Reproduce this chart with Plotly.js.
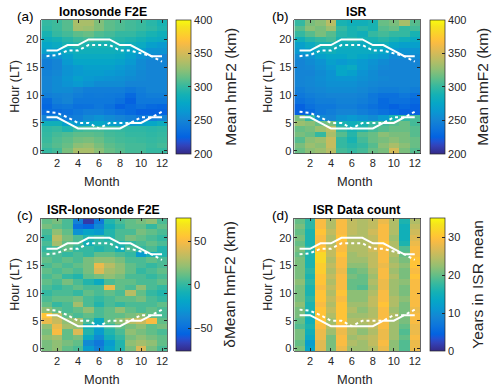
<!DOCTYPE html>
<html><head><meta charset="utf-8">
<script src="https://cdn.plot.ly/plotly-3.0.1.min.js"></script>
<style>html,body{margin:0;padding:0;background:#fff}#chart{width:500px;height:391px}</style>
</head><body><div id="chart"></div>
<script>
// ---------- data ----------
const months = [1,2,3,4,5,6,7,8,9,10,11,12];
const hours = [0,1,2,3,4,5,6,7,8,9,10,11,12,13,14,15,16,17,18,19,20,21,22,23];

// rows = hour 0..23, columns = month 1..12
const ionoF2E = [
 [300,305,320,335,335,325,315,310,305,305,300,300],
 [305,310,315,325,328,320,312,308,305,305,302,305],
 [302,308,312,318,320,315,308,305,303,302,300,302],
 [300,305,308,312,312,310,305,303,300,300,298,300],
 [298,300,292,302,305,305,302,300,298,298,296,298],
 [285,285,270,265,272,276,270,266,265,270,276,282],
 [250,255,242,245,255,260,255,250,245,240,245,250],
 [232,232,235,240,245,245,240,235,230,225,225,225],
 [228,238,240,235,236,240,235,225,230,235,230,228],
 [232,245,250,240,240,240,240,235,225,240,240,240],
 [245,248,250,245,242,243,242,240,230,242,245,245],
 [250,255,255,250,245,245,245,245,240,245,250,250],
 [250,255,260,265,260,255,255,255,250,250,250,250],
 [250,255,262,270,265,262,260,258,255,252,250,250],
 [248,252,260,265,268,268,265,262,258,253,250,250],
 [245,250,260,265,270,270,270,265,260,255,250,250],
 [245,250,265,275,275,275,275,272,265,255,250,250],
 [255,260,270,280,280,280,280,278,270,260,255,250],
 [270,270,280,285,285,285,285,283,275,270,260,260],
 [275,280,290,295,292,290,290,290,285,280,270,265],
 [283,288,295,302,305,300,298,295,292,288,282,280],
 [290,300,305,312,315,308,305,300,300,295,290,285],
 [298,303,310,333,330,322,312,308,305,302,298,292],
 [300,303,310,335,335,322,312,308,305,302,296,290]
];

const isrMean = [
 [315,325,330,340,305,300,305,315,320,350,320,310],
 [320,330,325,345,300,295,300,310,325,335,325,315],
 [310,325,330,345,300,290,305,315,320,325,320,315],
 [320,315,300,335,310,295,310,315,325,320,320,310],
 [315,320,330,340,300,290,295,305,310,315,315,310],
 [330,325,315,320,290,285,290,300,305,310,315,305],
 [320,300,255,250,260,265,260,255,265,290,300,305],
 [225,230,240,245,250,250,245,240,235,230,225,225],
 [225,235,240,240,245,245,240,235,230,225,230,225],
 [235,240,245,245,248,248,245,240,230,235,235,230],
 [240,245,248,250,250,250,248,240,235,235,240,235],
 [245,250,252,255,255,255,252,248,245,245,248,245],
 [250,252,255,258,258,258,255,252,250,250,250,250],
 [250,252,256,260,262,262,258,255,252,250,250,250],
 [250,250,255,260,275,270,260,255,250,250,250,250],
 [250,252,258,265,275,280,265,258,252,250,250,250],
 [250,255,260,270,265,270,265,260,255,250,250,250],
 [255,260,270,275,275,280,275,270,265,255,255,255],
 [265,270,280,285,280,280,280,280,275,265,260,260],
 [270,280,290,290,285,285,280,285,285,275,270,270],
 [285,295,300,305,290,295,290,290,295,290,285,280],
 [300,310,320,310,295,290,285,300,305,300,300,290],
 [310,325,320,330,300,290,295,290,310,315,300,305],
 [300,320,325,340,290,285,285,290,315,320,335,310]
];

const isrMinusIono = [
 [15,20,10,5,-25,-40,-20,-5,15,40,15,5],
 [15,20,15,10,-35,-45,-25,-5,20,25,20,10],
 [20,25,10,15,-15,-35,-10,0,15,20,15,10],
 [15,50,10,40,-5,-25,-5,5,20,15,10,5],
 [20,45,25,20,-10,-20,0,10,15,20,10,15],
 [45,35,20,25,5,-15,10,20,30,35,50,10],
 [55,30,10,5,10,5,10,10,15,20,10,5],
 [20,10,5,10,20,5,10,20,10,5,10,5],
 [10,0,5,25,5,-5,5,0,5,5,5,10],
 [5,10,10,15,5,0,5,10,10,15,5,0],
 [0,5,5,0,10,5,10,5,30,10,0,-5],
 [5,0,5,10,5,5,45,10,5,20,5,0],
 [10,5,15,5,-5,-15,5,10,10,5,5,10],
 [5,10,0,-5,10,15,20,15,5,5,0,5],
 [10,5,10,5,15,40,25,20,10,0,5,10],
 [5,10,5,10,15,45,30,20,10,5,0,5],
 [10,5,10,5,15,20,20,15,5,5,10,5],
 [5,5,0,5,0,10,10,5,0,-25,-10,-5],
 [0,5,10,0,0,-5,0,-10,5,0,5,-5],
 [5,25,10,5,-10,0,0,-5,0,5,10,5],
 [0,30,15,5,-5,0,-5,5,15,10,5,0],
 [5,20,10,-30,-20,-25,-5,5,5,15,10,5],
 [15,10,5,-50,-55,-35,-10,0,10,10,0,10],
 [10,15,5,-40,-70,-45,-5,5,10,15,20,5]
];

const isrCount = [
 [21,13,27,21,28,23,23,24,28,22,19,28],
 [20,12,27,21,29,24,23,25,29,22,19,28],
 [21,14,28,21,29,23,24,25,28,23,20,29],
 [21,15,28,23,28,24,22,24,28,23,19,28],
 [19,16,29,24,29,24,23,25,29,23,20,28],
 [20,15,30,23,30,24,24,25,29,23,21,29],
 [21,16,30,24,30,23,23,24,29,24,21,29],
 [21,16,30,25,30,24,22,24,29,23,21,28],
 [22,16,29,24,30,23,23,25,30,24,21,29],
 [21,17,30,25,29,22,22,25,29,24,22,29],
 [21,16,30,24,30,22,22,24,29,23,21,29],
 [21,16,29,25,29,20,19,23,28,23,21,29],
 [22,17,30,24,29,20,20,24,28,23,22,29],
 [21,16,30,25,29,21,20,23,29,24,21,30],
 [21,17,31,24,28,20,21,24,29,23,21,29],
 [21,16,31,25,29,22,22,25,28,24,22,30],
 [21,16,32,24,29,23,23,25,29,23,21,30],
 [20,16,32,25,30,23,24,25,29,24,20,29],
 [21,17,30,25,29,24,24,26,29,24,19,29],
 [20,16,29,24,29,24,24,25,30,24,16,28],
 [21,16,29,24,30,24,24,25,29,23,15,27],
 [20,16,30,25,29,25,24,26,29,24,15,26],
 [21,17,29,24,29,25,24,25,29,24,15,25],
 [20,17,29,24,29,25,24,25,28,24,16,24]
];

// sunrise / sunset curves (hour LT) per month
const sunsetSolid   = [18,18,19,19,20,20,20,19,19,18,17,17];
const sunsetDotted  = [17,17.2,18,18,19,19,19,18,18,17.5,17,16];
const sunriseSolid  = [6,6,5,4,4,4,4,4,5,5,6,6];
const sunriseDotted = [7,6.8,6,5,5,4,5,5,5,6,6,7];

const panelTitles = ['Ionosonde F2E','ISR','ISR-Ionosonde F2E','ISR Data count'];
const panelLetters = ['(a)','(b)','(c)','(d)'];
const cbTitles = ['Mean hmF2 (km)','Mean hmF2 (km)','\u03B4Mean hmF2 (km)','Years in ISR mean'];
const cbTicks = [[200,250,300,350,400],[200,250,300,350,400],[-50,0,50],[0,10,20,30]];
const cbRanges = [[200,400],[200,400],[-76,76],[0,35]];
const monthTicks = [2,4,6,8,10,12];
const hourTicks = [0,5,10,15,20];

// ---------- styling ----------
const parula = [
 [0,'rgb(53,42,135)'],[0.063,'rgb(50,67,186)'],[0.095,'rgb(32,83,212)'],[0.127,'rgb(3,99,225)'],
 [0.19,'rgb(13,117,220)'],[0.254,'rgb(20,133,212)'],[0.317,'rgb(9,152,209)'],[0.381,'rgb(6,167,198)'],
 [0.444,'rgb(21,177,180)'],[0.508,'rgb(56,185,158)'],[0.571,'rgb(101,190,134)'],[0.635,'rgb(146,191,115)'],
 [0.698,'rgb(183,189,100)'],[0.762,'rgb(217,186,86)'],[0.825,'rgb(248,187,68)'],[0.857,'rgb(255,195,55)'],
 [0.889,'rgb(252,206,46)'],[0.952,'rgb(245,228,29)'],[1,'rgb(249,251,14)']
];
const W=500,H=391;
const PX=v=>v/W, PY=v=>1-v/H;
const boxes = [
 {l:41.25,r:167.25,t:20,b:153.5,cb:176,cbt:231,lab:25,ylab:15},
 {l:294.3,r:420,t:20,b:153.5,cb:430,cbt:483,lab:280,ylab:268},
 {l:41.25,r:167.25,t:218.4,b:351.1,cb:176,cbt:230,lab:25,ylab:15},
 {l:294.3,r:420,t:218.4,b:351.1,cb:430,cbt:478,lab:280,ylab:268}
];
const zData = [ionoF2E,isrMean,isrMinusIono,isrCount];
const axisColor='#262626';
const FONT='"Liberation Sans", Arial, sans-serif';

const traces=[]; const layout={
 width:W,height:H,margin:{l:0,r:0,t:0,b:0},paper_bgcolor:'#fff',plot_bgcolor:'#fff',
 font:{family:FONT,color:axisColor},showlegend:false,annotations:[]
};
boxes.forEach((b,i)=>{
 const n=i+1, xa='x'+(n>1?n:''), ya='y'+(n>1?n:'');
 traces.push({type:'heatmap',x:months,y:hours,z:zData[i],xaxis:xa,yaxis:ya,
  colorscale:parula,zmin:cbRanges[i][0],zmax:cbRanges[i][1],zsmooth:false,hoverinfo:'skip',
  colorbar:{x:PX(b.cb),xanchor:'left',xpad:0,ypad:0,y:PY((b.t+b.b)/2),yanchor:'middle',
   len:b.b-b.t,lenmode:'pixels',thickness:15,thicknessmode:'pixels',
   outlinewidth:0.7,outlinecolor:axisColor,ticks:'inside',ticklen:3,tickcolor:axisColor,
   tickvals:cbTicks[i],tickfont:{size:11,color:axisColor,family:FONT}}});
 const lines=[[sunsetSolid,'solid'],[sunsetDotted,'dot'],[sunriseSolid,'solid'],[sunriseDotted,'dot']];
 lines.forEach(([yy,d])=>traces.push({type:'scatter',mode:'lines',x:months,y:yy,xaxis:xa,yaxis:ya,
  line:{color:'#ffffff',width:2,dash:d},hoverinfo:'skip'}));
 const axCommon={showgrid:false,zeroline:false,showline:true,mirror:'ticks',linecolor:axisColor,linewidth:0.7,
  ticks:'inside',ticklen:3,tickcolor:axisColor,tickfont:{size:11,color:axisColor,family:FONT}};
 layout['xaxis'+(n>1?n:'')]=Object.assign({},axCommon,{domain:[PX(b.l),PX(b.r)],range:[0.5,12.5],
  tickvals:monthTicks,anchor:ya});
 layout['yaxis'+(n>1?n:'')]=Object.assign({},axCommon,{domain:[PY(b.b),PY(b.t)],range:[-0.5,23.5],
  tickvals:hourTicks,anchor:xa});
 const cx=(b.l+b.r)/2;
 const A=layout.annotations;
 A.push({text:'<b>'+panelTitles[i]+'</b>',x:PX(cx-1),y:PY(b.t-8),xref:'paper',yref:'paper',
  showarrow:false,xanchor:'center',yanchor:'middle',font:{size:12.3,color:'#000',family:FONT}});
 A.push({text:panelLetters[i],x:PX(b.lab),y:PY(b.t-3),xref:'paper',yref:'paper',
  showarrow:false,xanchor:'center',yanchor:'middle',font:{size:13.5,color:'#000',family:FONT}});
 A.push({text:'Hour (LT)',x:PX(b.ylab),y:PY((b.t+b.b)/2),xref:'paper',yref:'paper',textangle:-90,
  showarrow:false,xanchor:'center',yanchor:'middle',font:{size:12.5,color:axisColor,family:FONT}});
 A.push({text:'Month',x:PX(cx-2),y:PY(b.b+28),xref:'paper',yref:'paper',
  showarrow:false,xanchor:'center',yanchor:'middle',font:{size:12.8,color:axisColor,family:FONT}});
 A.push({text:cbTitles[i],x:PX(b.cbt),y:PY((b.t+b.b)/2),xref:'paper',yref:'paper',textangle:-90,
  showarrow:false,xanchor:'center',yanchor:'middle',font:{size:15.5,color:axisColor,family:FONT}});
});
Plotly.newPlot('chart',traces,layout,{staticPlot:true,displayModeBar:false});
</script></body></html>
